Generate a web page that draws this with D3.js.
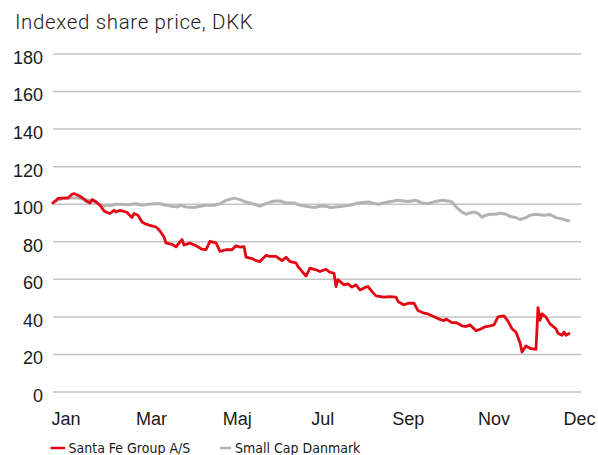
<!DOCTYPE html>
<html>
<head>
<meta charset="utf-8">
<script src="https://cdn.jsdelivr.net/npm/d3@7"></script>
<style>
  body { margin: 0; background: #fff; }
  svg { display: block; }
  .title { font-family: Roboto, "Liberation Sans", sans-serif; font-weight: 300; font-size: 20.5px; letter-spacing: 0.65px; fill: #1a1a1a; }
  .yaxis text, .xaxis text { font-family: "Liberation Sans", Arial, sans-serif; font-size: 18px; fill: #1a1a1a; }
  .legend text { font-family: "Liberation Sans Narrow", "DejaVu Sans Condensed", sans-serif; font-size: 14px; fill: #1a1a1a; }
</style>
</head>
<body>
<svg id="chart" width="598" height="455"></svg>
<script>
// valeurs (jour de bourse, indice)
const santaFe = [
  [0,100],[3,102.8],[6,103],[8,103],[10,105],[11,105.4],[13,104.5],[15,103.3],[17,101.5],[19,100.4],
  [20,102.2],[22,101],[24,99.2],[26,96.2],[27,95.6],[29,94.8],[31,96.5],[32,95.6],[34,96.5],[37,95.6],
  [38,94.8],[40,92.6],[41,94.8],[43,93.9],[45,90.3],[47,89.1],[49,88.5],[52,87.6],[54,85.5],[56,82.3],
  [57,79.1],[60,78.4],[62,77],[63,78.4],[65,80.9],[66,78],[67,78.4],[69,79],[72,77.6],[75,75.8],
  [77,75.5],[79,80],[82,79.2],[84,74.6],[87,75.5],[90,75.5],[92,77.6],[94,76.9],[96,77.2],[97,71.6],
  [100,70.8],[102,69.7],[104,69.2],[107,72.5],[109,72],[112,72],[115,69.7],[117,71.5],[119,69.2],[122,68.5],
  [123,66.5],[125,64],[127,61.5],[129,65.7],[132,64.8],[134,63.9],[137,65.1],[139,63.5],[141,63],[142,55.9],
  [143,59.6],[146,56.8],[148,57.3],[150,55.6],[152,56.8],[154,54.1],[157,55.6],[158,55.9],[160,53.2],[162,50.9],
  [166,50.3],[169,50.5],[172,50.3],[173,47.9],[176,46.1],[178,47],[181,47],[183,43.1],[186,41.7],[188,41.3],
  [191,39.8],[194,38.4],[196,37.7],[197,38.6],[200,36.7],[202,36.7],[205,35],[207,34.6],[209,35.5],[212,32.4],
  [214,33.1],[217,34.6],[219,35],[221,35.5],[223,39.8],[226,40.3],[228,37.5],[230,33.4],[232,31.6],[234,26],
  [235,21],[237,24.3],[239,23],[242,22.4],[243,44.7],[244,37.9],[245,41.3],[247,39.6],[249,36],[252,33.4],
  [253,31],[255,29.9],[256,31.7],[257,30],[259,31.2]
];
const smallCap = [
  [0,100],[3,102],[6,103],[10,103],[13,103],[17,102.2],[20,101.5],[23,100],[26,98.7],[27,99.2],
  [30,99.2],[32,99.7],[35,99.7],[38,99.4],[42,100],[45,99.2],[48,99.7],[52,100],[54,100],[57,99.2],
  [60,98.7],[63,98.3],[64,99.2],[67,98.3],[71,98],[74,98.7],[77,99.2],[81,99.2],[84,100],[87,101.8],
  [91,103],[94,102.2],[97,100.9],[101,99.7],[104,98.7],[107,100],[111,101.5],[114,101.5],[117,100.4],[121,100.4],
  [124,99.2],[127,98.7],[131,98],[134,98.7],[137,98.7],[139,98],[144,98.5],[149,99.2],[153,100.4],[158,100.9],
  [163,99.7],[168,100.9],[173,101.8],[178,101.2],[182,101.8],[185,100.4],[188,100],[191,101],[195,101.8],[198,101.5],
  [200,100.9],[202,98.3],[205,95.5],[207,94.4],[209,95.1],[211,95.6],[213,94.8],[215,92.9],[217,93.9],[219,94.4],
  [222,94.4],[224,95.1],[227,94.4],[229,93.3],[232,92.6],[234,91.6],[237,92.6],[239,93.9],[242,94.4],[246,93.9],
  [249,94.2],[252,92.6],[256,91.6],[258,90.9],[259,91.3]
];
const monthLabels = ["Jan", "Mar", "Maj", "Jul", "Sep", "Nov", "Dec"];
const yTicks = [0, 20, 40, 60, 80, 100, 120, 140, 160, 180];
const seriesNames = ["Santa Fe Group A/S", "Small Cap Danmark"];

const svg = d3.select("#chart");

var x = d3.scaleLinear().domain([0, 259]).range([52, 570]);
var y = d3.scaleLinear().domain([0, 180]).range([391.5, 53.5]);
var xLab = d3.scalePoint().domain(monthLabels).range([65.5, 579]);

// titre
svg.append("text").attr("class", "title").attr("x", 15).attr("y", 28.5).text("Indexed share price, DKK");

// lignes horizontales + étiquettes
var yAxis = svg.append("g").attr("class", "yaxis")
    .attr("transform", "translate(581,0)")
    .call(d3.axisLeft(y).tickValues(yTicks).tickSize(528).tickPadding(10));
yAxis.select(".domain").remove();
yAxis.selectAll("line").attr("stroke", "#c4c4c4").attr("stroke-width", 1.5);
yAxis.selectAll("text").attr("dy", "0.55em");

// mois
var xAxis = svg.append("g").attr("class", "xaxis")
    .attr("transform", "translate(0,391.5)")
    .call(d3.axisBottom(xLab).tickSize(0).tickPadding(21));
xAxis.select(".domain").remove();

var line = d3.line().x(d => x(d[0])).y(d => y(d[1]));

svg.append("path").datum(smallCap)
    .attr("fill", "none").attr("stroke", "#b3b3b3").attr("stroke-width", 3)
    .attr("stroke-linejoin", "round").attr("d", line);

svg.append("path").datum(santaFe)
    .attr("fill", "none").attr("stroke", "#e30613").attr("stroke-width", 2.8)
    .attr("stroke-linejoin", "round").attr("d", line);

// légende
var legend = svg.append("g").attr("class", "legend");
var legX = [[50.5, 65, 68.5], [220, 231, 235]];
var legCol = ["#e30613", "#b3b3b3"];
seriesNames.forEach(function (name, i) {
    legend.append("line")
        .attr("x1", legX[i][0]).attr("x2", legX[i][1])
        .attr("y1", 448).attr("y2", 448)
        .attr("stroke", legCol[i]).attr("stroke-width", 2.5);
    legend.append("text").attr("x", legX[i][2]).attr("y", 452.5).text(name);
});
</script>
</body>
</html>
